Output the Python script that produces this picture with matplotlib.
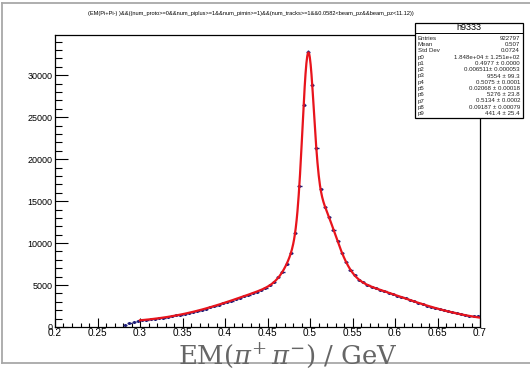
import numpy as np
import matplotlib
matplotlib.use("Agg")
import matplotlib.pyplot as plt
from matplotlib.lines import Line2D
from matplotlib.patches import Rectangle
from matplotlib.ticker import MultipleLocator, FuncFormatter

W, H = 530, 373

TITLE = ("(EM(Pi+Pi-) )&&((num_proto>=0&&num_piplus>=1&&num_pimin>=1)"
         "&&(num_tracks>=1&&0.0582<beam_pz&&beam_pz<11.12))")
XLABEL = r"EM($\pi^{+}\,\pi^{-}$) / GeV"

# histogram: bins of 0.005 GeV starting at 0.280
BIN_LO = 0.280
BIN_W = 0.005
COUNTS = [
    180, 430, 610, 750, 830, 860, 930, 975, 1060, 1110,
    1210, 1280, 1390, 1465, 1590, 1680, 1825, 1925, 2080, 2195,
    2370, 2490, 2680, 2810, 3000, 3140, 3345, 3490, 3695, 3840,
    4060, 4210, 4460, 4700, 5000, 5390, 5900, 6600, 7540, 8850,
    11200, 16800, 26500, 32800, 28900, 21300, 16450, 14350, 13100, 11600,
    10250, 8850, 7780, 6810, 6180, 5640, 5310, 5000, 4820, 4590,
    4450, 4240, 4100, 3900, 3750, 3550, 3400, 3205, 3060, 2870,
    2730, 2550, 2420, 2250, 2130, 1975, 1870, 1740, 1640, 1530,
    1440, 1360, 1300, 1260,
]

# fit: 3 gaussians + constant, parameters from the stats box
P = [1.848e4, 0.4977, 0.006511, 9554, 0.5075, 0.02068,
     5276, 0.5134, 0.09187, 441.4]
FIT_RANGE = (0.3, 0.7)

STATS_NAME = "h9333"
STATS_LABELS = ["Entries", "Mean", "Std Dev", "p0", "p1", "p2", "p3",
                "p4", "p5", "p6", "p7", "p8", "p9"]
STATS_VALUES = ["922797", "0.507", "0.0724",
                "1.848e+04 \u00b1 1.251e+02", "0.4977 \u00b1 0.0000",
                "0.006511\u00b1 0.000053", "9554 \u00b1 99.3",
                "0.5075 \u00b1 0.0001", "0.02068 \u00b1 0.00018",
                "5276 \u00b1 23.8", "0.5134 \u00b1 0.0002",
                "0.09187 \u00b1 0.00079", "441.4 \u00b1 25.4"]


def fx(x, y):
    return x / W, 1 - y / H


def model(x, p):
    g = lambda a, m, s: a * np.exp(-0.5 * ((x - m) / s) ** 2)
    return g(*p[0:3]) + g(*p[3:6]) + g(*p[6:9]) + p[9]


plt.rcParams["font.family"] = ["Liberation Sans", "DejaVu Sans"]
fig = plt.figure(figsize=(W / 100, H / 100), dpi=100)
x0, y0 = fx(55, 327)
x1, y1 = fx(480, 35)
ax = fig.add_axes([x0, y0, x1 - x0, y1 - y0])

counts = np.array(COUNTS, dtype=float)
centers = BIN_LO + BIN_W * (np.arange(len(counts)) + 0.5)
ax.errorbar(centers, counts, yerr=np.sqrt(counts), xerr=BIN_W / 2,
            fmt="none", ecolor="#1c1c78", elinewidth=1.0, zorder=2)
ax.plot(centers, counts, ls="none", marker="o", ms=1.2, color="#1c1c78",
        zorder=2)

xf = np.linspace(*FIT_RANGE, 800)
ax.plot(xf, model(xf, P), color="#e8141c", lw=1.6, zorder=3)

ax.set_xlim(0.2, 0.7)
ax.set_ylim(0, 34800)
ax.xaxis.set_major_locator(MultipleLocator(0.05))
ax.xaxis.set_minor_locator(MultipleLocator(0.01))
ax.yaxis.set_major_locator(MultipleLocator(5000))
ax.yaxis.set_minor_locator(MultipleLocator(1000))
ax.xaxis.set_major_formatter(FuncFormatter(lambda v, _: f"{v:g}"))
ax.yaxis.set_major_formatter(FuncFormatter(lambda v, _: f"{v:g}"))
ax.tick_params(axis="x", which="major", direction="in", length=6.3,
               width=0.8, labelsize=7.2, pad=1)
ax.tick_params(axis="x", which="minor", direction="in", length=3.1,
               width=0.8)
ax.tick_params(axis="y", which="major", direction="in", length=9.4,
               width=0.8, labelsize=6.5, pad=2)
ax.tick_params(axis="y", which="minor", direction="in", length=4.7,
               width=0.8)
for s in ax.spines.values():
    s.set_linewidth(0.9)

# canvas border lines
for (xa, ya), (xb, yb) in [((2, 3), (2, 363)), ((2, 3), (530, 3)),
                           ((2, 363), (530, 363))]:
    fig.add_artist(Line2D([fx(xa, ya)[0], fx(xb, yb)[0]],
                          [fx(xa, ya)[1], fx(xb, yb)[1]],
                          color="#a8a8a8", lw=1.3))

fig.text(*fx(251, 14), TITLE, ha="center", va="center", fontsize=4.1)

fig.text(*fx(288, 356), XLABEL, ha="center", va="center", fontsize=18.6,
         color="#666666", family="DejaVu Serif",
         math_fontfamily="dejavuserif")

# stats box
bx0, by0 = fx(415, 118)
bx1, by1 = fx(523, 23)
fig.add_artist(Rectangle((bx0, by0), bx1 - bx0, by1 - by0,
                         transform=fig.transFigure, fc="white", ec="black",
                         lw=0.9, zorder=5))
fig.add_artist(Line2D([bx0, bx1], [fx(0, 33)[1]] * 2, color="black",
                      lw=0.7, zorder=6))
fig.text(*fx(469, 28), STATS_NAME, ha="center", va="center", fontsize=6.5,
         zorder=6)
for i, (lab, val) in enumerate(zip(STATS_LABELS, STATS_VALUES)):
    yy = 38.5 + i * 6.25
    fig.text(*fx(418, yy), lab, ha="left", va="center", fontsize=4.4,
             zorder=6, color="#222222")
    fig.text(*fx(520, yy), val, ha="right", va="center", fontsize=4.4,
             zorder=6, color="#222222")

fig.savefig("out.png", dpi=100)
